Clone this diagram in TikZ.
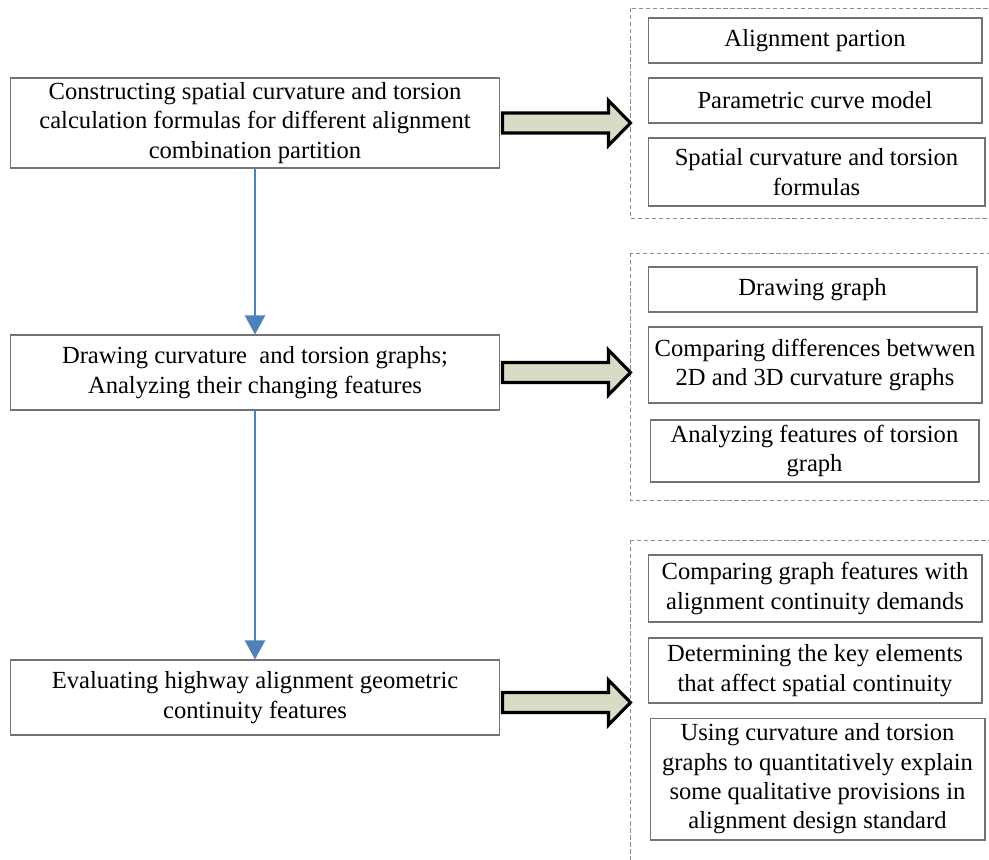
\documentclass[tikz,border=0pt]{standalone}
\usepackage{fontspec}
\setmainfont{Liberation Serif}
\usepackage{tikz}
\usetikzlibrary{arrows.meta,positioning}
\definecolor{flowblue}{RGB}{79,129,189}
\definecolor{arrowfill}{RGB}{215,220,196}

\begin{document}
\begin{tikzpicture}[x=0.02cm,y=-0.02cm,
    every node/.style={font=\fontsize{14}{16.7}\selectfont,align=center,inner sep=0pt},
    stage/.style={draw=black!55,line width=0.6pt,minimum width=9.8cm},
    item/.style={draw=black!55,line width=0.6pt,minimum width=6.68cm},
    group/.style={draw=black!45,dashed,line width=0.5pt,dash pattern=on 2.5pt off 1.5pt},
    flow/.style={draw=flowblue,line width=1.2pt,-{Triangle[length=0.38cm,width=0.4cm]}},
    bigarrow/.style={draw=black,line width=1.8pt,fill=arrowfill,line join=miter}]
    \useasboundingbox (0,0) rectangle (989,859);
    \clip (0,0) rectangle (989,859);
    \node[stage,minimum height=1.8cm] (A) at (255,123)
      {Constructing spatial curvature and torsion\\calculation formulas for different alignment\\combination partition};
    \node[stage,minimum height=1.5cm] (B) at (255,372.5)
      {Drawing curvature\ \ and torsion graphs;\\Analyzing their changing features};
    \node[stage,minimum height=1.5cm] (C) at (255,697.5)
      {Evaluating highway alignment geometric\\continuity features};
    \draw[flow] (A) -- (B);
    \draw[flow] (B) -- (C);
    \draw[group] (630,8) rectangle (1010,218);
    \draw[group] (630,253) rectangle (1010,500);
    \draw[group] (630,540) rectangle (1010,900);
    \node[item,minimum height=0.9cm] (a1) at (815,40.5) {Alignment partion};
    \node[item,minimum height=0.9cm] (a2) at (815,100.5) {Parametric curve model};
    \node[item,minimum width=6.74cm,minimum height=1.36cm] (a3) at (816.5,172)
      {Spatial curvature and torsion\\formulas};
    \node[item,minimum width=6.58cm,minimum height=0.9cm] (b1) at (812.5,289.5) {Drawing graph};
    \node[item,minimum height=1.52cm] (b2) at (815,365)
      {Comparing differences betwwen\\2D and 3D curvature graphs};
    \node[item,minimum width=6.58cm,minimum height=1.24cm] (b3) at (814.5,451)
      {Analyzing features of torsion\\graph};
    \node[item,minimum height=1.34cm] (c1) at (815,588.5)
      {Comparing graph features with\\alignment continuity demands};
    \node[item,minimum height=1.3cm] (c2) at (815,670.5)
      {Determining the key elements\\that affect spatial continuity};
    \node[item,minimum width=6.7cm,minimum height=2.44cm] (c3) at (817.5,779)
      {Using curvature and torsion\\graphs to quantitatively explain\\some qualitative provisions in\\alignment design standard};
    \draw[bigarrow] (A.east) ++(2,-10) -- ++(106,0) -- ++(0,-12.5) -- ++(22,22.5)
      -- ++(-22,22.5) -- ++(0,-12.5) -- ++(-106,0) -- cycle;
    \draw[bigarrow] (B.east) ++(2,-10) -- ++(106,0) -- ++(0,-12.5) -- ++(22,22.5)
      -- ++(-22,22.5) -- ++(0,-12.5) -- ++(-106,0) -- cycle;
    \draw[bigarrow] (C.east) ++(2,-5) -- ++(106,0) -- ++(0,-12.5) -- ++(22,22.5)
      -- ++(-22,22.5) -- ++(0,-12.5) -- ++(-106,0) -- cycle;
\end{tikzpicture}
\end{document}
